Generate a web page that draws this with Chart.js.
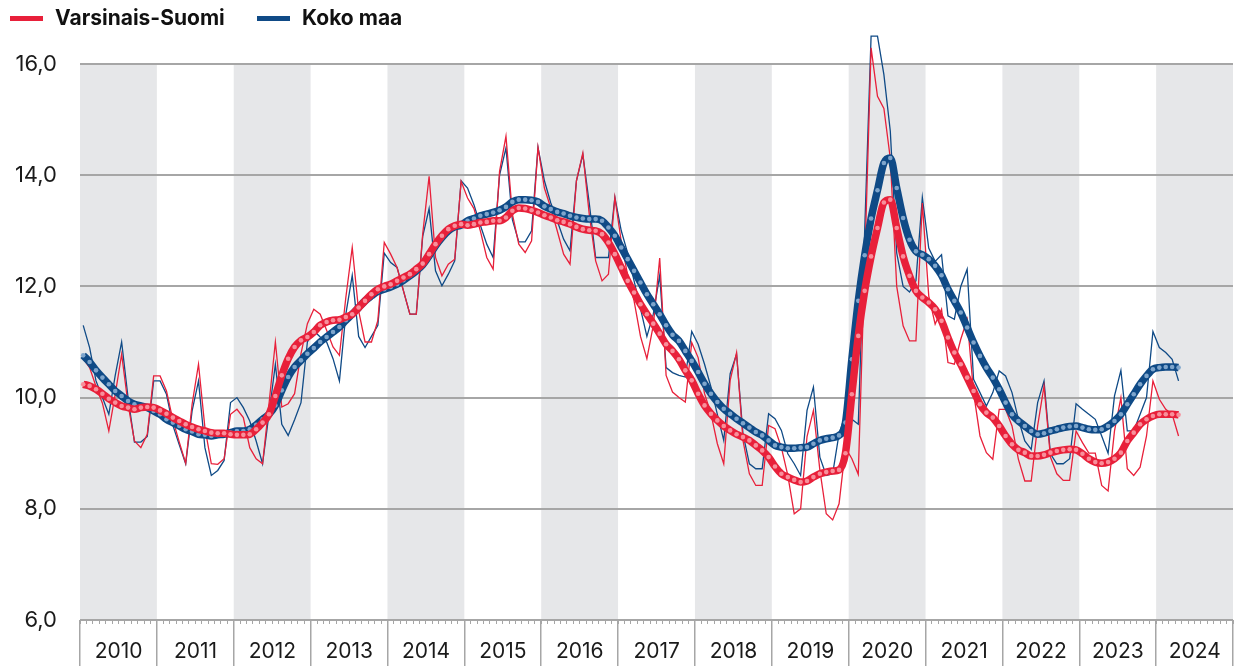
<!DOCTYPE html>
<html>
<head>
<meta charset="utf-8">
<script src="https://cdn.jsdelivr.net/npm/chart.js@4/dist/chart.umd.min.js"></script>
<style>
  html, body { margin: 0; padding: 0; background: #fff; }
  #wrap { position: relative; width: 1237px; height: 666px; }
  #legend { position: absolute; left: 0; top: 0; font: bold 21px Inter, sans-serif; color: #111; }
  #legend span.item { position: absolute; top: 5px; white-space: nowrap; }
  #legend span.swatch { position: absolute; top: 16px; width: 33px; height: 5px; }
</style>
</head>
<body>
<div id="wrap">
  <canvas id="line-chart"></canvas>
  <div id="legend"></div>
</div>
<script>
// ------------------------------------------------------
// @Data (monthly, Jan 2010 - Apr 2024)
// ------------------------------------------------------
const years = ['2010', '2011', '2012', '2013', '2014', '2015', '2016', '2017',
               '2018', '2019', '2020', '2021', '2022', '2023', '2024'];
const yTicks = [6, 8, 10, 12, 14, 16];
const seriesNames = ['Varsinais-Suomi', 'Koko maa'];

// Koko maa, monthly
const kokoMonthly = [
  11.3, 10.9, 10.3, 10.0, 9.7, 10.4, 11.0, 10.0, 9.2, 9.2, 9.3, 10.3,
  10.3, 10.06, 9.5, 9.15, 8.81, 9.76, 10.3, 9.1, 8.6, 8.69, 8.87, 9.91,
  10.0, 9.82, 9.58, 9.22, 8.81, 9.7, 10.6, 9.52, 9.32, 9.6, 9.91, 11.0,
  11.2, 11.09, 11.0, 10.7, 10.3, 11.5, 12.2, 11.1, 10.9, 11.1, 11.3, 12.6,
  12.43, 12.34, 11.92, 11.5, 11.5, 12.9, 13.4, 12.28, 12.01, 12.22, 12.46, 13.9,
  13.77, 13.47, 13.1, 12.76, 12.52, 14.0, 14.49, 13.2, 12.8, 12.8, 13.0, 14.5,
  13.9, 13.5, 13.18, 12.85, 12.64, 13.9, 14.37, 13.5, 12.52, 12.52, 12.52, 13.6,
  13.0, 12.6, 12.1, 11.6, 11.1, 11.5, 12.2, 10.54, 10.45, 10.4, 10.37, 11.19,
  10.96, 10.6, 10.19, 9.7, 9.23, 10.43, 10.78, 9.35, 8.81, 8.72, 8.72, 9.71,
  9.62, 9.41, 8.99, 8.81, 8.6, 9.77, 10.19, 8.93, 8.6, 8.63, 9.35, 9.7,
  9.61, 9.52, 13.0, 16.5, 16.5, 15.81, 14.79, 12.6, 12.0, 11.9, 12.1, 13.6,
  12.69, 12.45, 12.57, 11.47, 11.41, 12.0, 12.31, 10.33, 10.09, 9.85, 10.09, 10.48,
  10.39, 10.09, 9.61, 9.22, 9.07, 9.91, 10.3, 8.99, 8.81, 8.81, 8.9, 9.89,
  9.79, 9.7, 9.61, 9.31, 9.0, 10.03, 10.49, 9.4, 9.4, 9.7, 10.0, 11.19,
  10.9, 10.81, 10.69, 10.3
];

// Varsinais-Suomi, monthly
const vsMonthly = [
  10.7, 10.54, 10.2, 9.9, 9.4, 10.06, 10.78, 9.88, 9.22, 9.1, 9.34, 10.39,
  10.39, 10.12, 9.6, 9.2, 8.82, 9.88, 10.6, 9.46, 8.81, 8.8, 8.9, 9.7,
  9.79, 9.64, 9.1, 8.9, 8.81, 9.88, 11.0, 9.83, 9.89, 10.07, 10.79, 11.33,
  11.59, 11.5, 11.21, 10.91, 10.76, 11.8, 12.7, 11.56, 11.0, 11.0, 11.39, 12.79,
  12.58, 12.34, 11.92, 11.5, 11.5, 12.94, 13.98, 12.52, 12.19, 12.4, 12.49, 13.89,
  13.59, 13.4, 13.0, 12.52, 12.31, 14.07, 14.7, 13.3, 12.76, 12.61, 12.82, 14.5,
  13.77, 13.41, 13.0, 12.58, 12.4, 13.9, 14.4, 13.3, 12.46, 12.1, 12.22, 13.6,
  12.8, 12.2, 11.74, 11.1, 10.7, 11.3, 12.51, 10.4, 10.1, 10.0, 9.92, 10.99,
  10.72, 10.07, 9.71, 9.17, 8.81, 10.31, 10.81, 9.23, 8.63, 8.42, 8.42, 9.5,
  9.44, 9.1, 8.6, 7.91, 8.0, 9.3, 9.77, 8.7, 7.91, 7.8, 8.09, 9.1,
  8.9, 8.62, 12.4, 16.29, 15.42, 15.2, 14.3, 12.0, 11.29, 11.02, 11.02, 13.5,
  11.83, 11.32, 11.59, 10.63, 10.6, 11.05, 11.41, 10.09, 9.31, 9.01, 8.89, 9.79,
  9.79, 9.49, 8.89, 8.5, 8.5, 9.49, 10.21, 8.93, 8.63, 8.51, 8.51, 9.4,
  9.19, 9.0, 9.0, 8.42, 8.32, 9.4, 10.0, 8.72, 8.6, 8.75, 9.31, 10.3,
  9.97, 9.79, 9.7, 9.31
];

// Koko maa, trend
const kokoTrend = [
  10.76, 10.64, 10.49, 10.36, 10.24, 10.12, 10.03, 9.94, 9.88, 9.85, 9.82, 9.76,
  9.7, 9.61, 9.55, 9.49, 9.43, 9.39, 9.34, 9.33, 9.31, 9.33, 9.34, 9.37,
  9.4, 9.4, 9.43, 9.51, 9.61, 9.7, 9.86, 10.13, 10.37, 10.55, 10.67, 10.79,
  10.89, 11.0, 11.09, 11.18, 11.27, 11.39, 11.5, 11.62, 11.74, 11.83, 11.91, 11.95,
  11.99, 12.04, 12.11, 12.19, 12.28, 12.39, 12.55, 12.73, 12.88, 13.0, 13.07, 13.1,
  13.18, 13.22, 13.27, 13.3, 13.33, 13.37, 13.43, 13.52, 13.56, 13.56, 13.55, 13.52,
  13.44, 13.39, 13.34, 13.31, 13.27, 13.24, 13.22, 13.21, 13.21, 13.18, 13.06, 12.91,
  12.7, 12.49, 12.28, 12.07, 11.86, 11.68, 11.5, 11.3, 11.13, 11.02, 10.84, 10.66,
  10.46, 10.25, 10.07, 9.92, 9.8, 9.71, 9.62, 9.54, 9.46, 9.38, 9.32, 9.23,
  9.14, 9.11, 9.09, 9.09, 9.1, 9.11, 9.17, 9.23, 9.26, 9.28, 9.32, 9.55,
  10.69, 11.74, 12.56, 13.22, 13.73, 14.22, 14.31, 13.77, 13.23, 12.84, 12.63, 12.57,
  12.49, 12.37, 12.2, 11.95, 11.74, 11.53, 11.26, 10.99, 10.75, 10.54, 10.36, 10.15,
  9.91, 9.7, 9.58, 9.49, 9.4, 9.34, 9.36, 9.4, 9.43, 9.46, 9.48, 9.49,
  9.46, 9.43, 9.42, 9.43, 9.49, 9.58, 9.7, 9.88, 10.06, 10.24, 10.39, 10.51,
  10.54, 10.55, 10.55, 10.54
];

// Varsinais-Suomi, trend
const vsTrend = [
  10.24, 10.21, 10.15, 10.07, 9.98, 9.91, 9.85, 9.82, 9.79, 9.82, 9.83, 9.82,
  9.77, 9.71, 9.64, 9.58, 9.52, 9.47, 9.43, 9.4, 9.37, 9.36, 9.36, 9.34,
  9.33, 9.33, 9.34, 9.43, 9.55, 9.7, 10.03, 10.4, 10.7, 10.91, 11.03, 11.09,
  11.18, 11.3, 11.36, 11.39, 11.4, 11.45, 11.5, 11.62, 11.74, 11.86, 11.95, 12.0,
  12.04, 12.1, 12.16, 12.22, 12.31, 12.41, 12.58, 12.76, 12.91, 13.03, 13.09, 13.12,
  13.1, 13.12, 13.15, 13.16, 13.18, 13.18, 13.24, 13.36, 13.41, 13.4, 13.37, 13.33,
  13.28, 13.24, 13.19, 13.16, 13.12, 13.07, 13.03, 13.01, 13.0, 12.94, 12.79, 12.58,
  12.34, 12.1, 11.89, 11.68, 11.5, 11.33, 11.15, 10.96, 10.84, 10.69, 10.49, 10.31,
  10.07, 9.86, 9.71, 9.59, 9.49, 9.41, 9.34, 9.29, 9.23, 9.14, 9.05, 8.93,
  8.76, 8.63, 8.57, 8.52, 8.48, 8.5, 8.57, 8.63, 8.66, 8.68, 8.7, 9.0,
  10.06, 11.11, 11.92, 12.54, 13.05, 13.51, 13.56, 13.05, 12.54, 12.19, 11.92, 11.8,
  11.71, 11.59, 11.38, 11.08, 10.81, 10.6, 10.36, 10.12, 9.88, 9.73, 9.64, 9.49,
  9.31, 9.16, 9.06, 9.01, 8.95, 8.95, 8.97, 9.01, 9.04, 9.06, 9.07, 9.06,
  8.99, 8.9, 8.84, 8.82, 8.84, 8.9, 9.01, 9.22, 9.37, 9.52, 9.61, 9.67,
  9.7, 9.7, 9.7, 9.69
];

const RED = '#e8203a';
const BLUE = '#0f4a86';
const GRID = '#a6a6a6';

// month index -> point
const pts = arr => arr.map((v, i) => ({ x: i, y: v }));

// html legend
const legendBox = document.getElementById('legend');
[[seriesNames[0], RED, 10, 55], [seriesNames[1], BLUE, 257, 302]].forEach(([name, col, sx, tx]) => {
  legendBox.insertAdjacentHTML('beforeend',
    '<span class="swatch" style="left:' + sx + 'px;background:' + col + '"></span>' +
    '<span class="item" style="left:' + tx + 'px">' + name + '</span>');
});

// grey background for every other year
const yearBands = {
  id: 'yearBands',
  beforeDraw(chart) {
    const { ctx, scales: { x, y } } = chart;
    const top = y.getPixelForValue(yTicks[yTicks.length - 1]);
    const bottom = y.getPixelForValue(yTicks[0]);
    ctx.save();
    ctx.fillStyle = '#e6e7e9';
    years.forEach((yr, k) => {
      if (k % 2) return;
      const x0 = x.getPixelForValue(k * 12 - 0.5);
      const x1 = x.getPixelForValue(k * 12 + 11.5);
      ctx.fillRect(x0, top, x1 - x0, bottom - top);
    });
    ctx.restore();
  }
};

const lastX = years.length * 12 - 0.5;

const chart = new Chart(document.getElementById('line-chart'), {
  type: 'line',
  data: {
    datasets: [{
      label                : seriesNames[0] + ' trendi',
      data                 : pts(vsTrend),
      borderColor          : RED,
      borderWidth          : 7.5,
      pointRadius          : 2.3,
      pointBorderWidth     : 0,
      pointBackgroundColor : '#f88f9b',
      cubicInterpolationMode: 'monotone',
      clip                 : false,
    }, {
      label                : seriesNames[1] + ' trendi',
      data                 : pts(kokoTrend),
      borderColor          : BLUE,
      borderWidth          : 7.5,
      pointRadius          : 2.3,
      pointBorderWidth     : 0,
      pointBackgroundColor : '#7ea5cc',
      cubicInterpolationMode: 'monotone',
      clip                 : false,
    }, {
      label                : seriesNames[0],
      data                 : pts(vsMonthly),
      borderColor          : RED,
      borderWidth          : 1.3,
      pointRadius          : 0,
      clip                 : false,
    }, {
      label                : seriesNames[1],
      data                 : pts(kokoMonthly),
      borderColor          : BLUE,
      borderWidth          : 1.3,
      pointRadius          : 0,
      clip                 : false,
    }],
  },
  options: {
    responsive: true,
    maintainAspectRatio: false,
    animation: false,
    layout: { padding: { top: 22, left: 0, right: 0, bottom: 0 } },
    plugins: {
      legend: { display: false },
      tooltip: { enabled: false },
    },
    scales: {
      x: {
        type: 'linear',
        min: -0.5,
        max: lastX,
        afterBuildTicks: s => {
          s.ticks = years.map((yr, k) => ({ value: k * 12 - 0.5 })).concat([{ value: lastX }]);
        },
        afterFit: s => { s.height = 46; },
        ticks: {
          autoSkip: false,
          maxRotation: 0,
          labelOffset: 38.6,
          padding: -27,
          color: '#1a1a1a',
          font: { family: 'Inter', size: 21 },
          callback: (v, i) => years[i] || '',
        },
        grid: { drawOnChartArea: false, tickLength: 46, color: GRID, lineWidth: 1.5 },
        border: { display: false },
      },
      xMonths: {
        type: 'linear',
        position: { y: 6 },
        min: -0.5,
        max: lastX,
        afterBuildTicks: s => {
          const t = [];
          for (let m = -0.5; m <= lastX; m += 1) t.push({ value: m });
          s.ticks = t;
        },
        ticks: { display: false },
        grid: { drawOnChartArea: false, tickLength: 4, color: GRID, lineWidth: 1 },
        border: { display: false },
      },
      y: {
        min: 6,
        max: 16.5,
        afterBuildTicks: s => { s.ticks = yTicks.map(v => ({ value: v })); },
        afterFit: s => { s.width = 80; },
        ticks: {
          padding: 23,
          color: '#1a1a1a',
          font: { family: 'Inter', size: 22 },
          callback: v => v.toFixed(1).replace('.', ','),
        },
        grid: { color: GRID, lineWidth: 2, drawTicks: false },
        border: { display: false },
      },
    },
  },
  plugins: [yearBands],
});
</script>
</body>
</html>
